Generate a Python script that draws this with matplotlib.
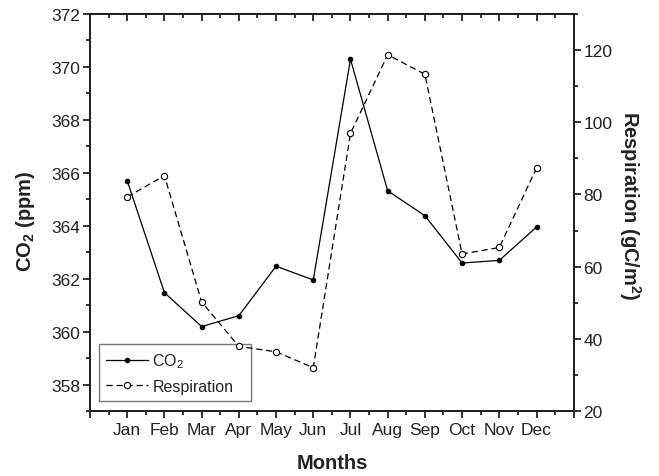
import matplotlib
matplotlib.use("Agg")
import matplotlib.pyplot as plt
from matplotlib.ticker import MultipleLocator, FixedLocator

plt.rcParams['font.family'] = ['Liberation Sans', 'DejaVu Sans']
plt.rcParams['mathtext.fontset'] = 'custom'
plt.rcParams['mathtext.rm'] = 'Liberation Sans'
plt.rcParams['mathtext.bf'] = 'Liberation Sans:bold'

months = ["Jan", "Feb", "Mar", "Apr", "May", "Jun",
          "Jul", "Aug", "Sep", "Oct", "Nov", "Dec"]
co2_ppm = [365.70, 361.47, 360.19, 360.60, 362.47, 361.95,
           370.29, 365.32, 364.38, 362.59, 362.69, 363.95]
respiration = [79.3, 85.2, 50.2, 37.9, 36.4, 32.0,
               96.9, 118.7, 113.3, 63.5, 65.3, 87.3]

x = list(range(1, len(months) + 1))
ink = '#222222'

fig = plt.figure(figsize=(6.59, 4.77), dpi=100)
ax = fig.add_axes([0.1366, 0.1363, 0.7340, 0.8323])
ax2 = ax.twinx()

l1, = ax.plot(x, co2_ppm, color='black', lw=0.9, marker='o', ms=3,
              mfc='black', mec='black', label='CO$_2$')
l2, = ax2.plot(x, respiration, color='black', lw=0.9, ls=(0, (5, 3)),
               marker='o', ms=4.5, mfc='white', mec='black', mew=0.8,
               label='Respiration')

ax.set_xlim(0, 13)
ax.set_ylim(357, 372)
ax2.set_ylim(20, 130)

ax.xaxis.set_major_locator(FixedLocator(range(0, 14)))
ax.set_xticklabels([''] + months + [''])
ax.xaxis.set_minor_locator(MultipleLocator(0.5))
ax.yaxis.set_major_locator(FixedLocator(range(358, 373, 2)))
ax.yaxis.set_minor_locator(MultipleLocator(1))
ax2.yaxis.set_major_locator(FixedLocator(range(20, 121, 20)))
ax2.yaxis.set_minor_locator(MultipleLocator(10))

for a in (ax, ax2):
    for s in a.spines.values():
        s.set_linewidth(1.4)
        s.set_color(ink)

ax.tick_params(axis='both', which='major', direction='out', length=5,
               width=1.3, labelsize=12.5, color=ink, labelcolor=ink, pad=2)
ax.tick_params(axis='both', which='minor', direction='out', length=3,
               width=1.3, color=ink)
ax.tick_params(axis='x', which='both', top=True)
ax.tick_params(axis='x', which='major', pad=3)
ax2.tick_params(axis='y', which='major', direction='out', length=5,
                width=1.3, labelsize=12.5, color=ink, labelcolor=ink, pad=2)
ax2.tick_params(axis='y', which='minor', direction='out', length=3,
                width=1.3, color=ink)

# top axis ticks point into the plot
for t in ax.xaxis.get_major_ticks():
    t.tick2line.set_marker(3)
    t.tick2line.set_markersize(5)
for t in ax.xaxis.get_minor_ticks():
    t.tick2line.set_marker(3)
    t.tick2line.set_markersize(3)

lab = dict(fontsize=14.5, fontweight='bold', color=ink)
ax.set_xlabel('Months', va='center', **lab)
ax.set_ylabel('CO$_\\mathbf{2}$ (ppm)', va='center', **lab)
ax2.set_ylabel('Respiration (gC/m$^\\mathbf{2}$)', rotation=270,
               va='center', **lab)
ax.xaxis.set_label_coords(0.5, -0.13)
ax.yaxis.set_label_coords(-0.133, 0.48)
ax2.yaxis.set_label_coords(1.117, 0.52)

leg = ax.legend(handles=[l1, l2], loc='lower left',
                bbox_to_anchor=(0.0184, 0.025, 0.3135, 0.1), mode='expand',
                fontsize=11.5, frameon=True,
                fancybox=False, edgecolor='#555555', handlelength=2.6,
                borderpad=0.45, labelspacing=0.55, handletextpad=0.3,
                borderaxespad=0.0)
leg.get_frame().set_linewidth(1.0)
for t in leg.get_texts():
    t.set_color(ink)

fig.savefig('out.png', dpi=100)
